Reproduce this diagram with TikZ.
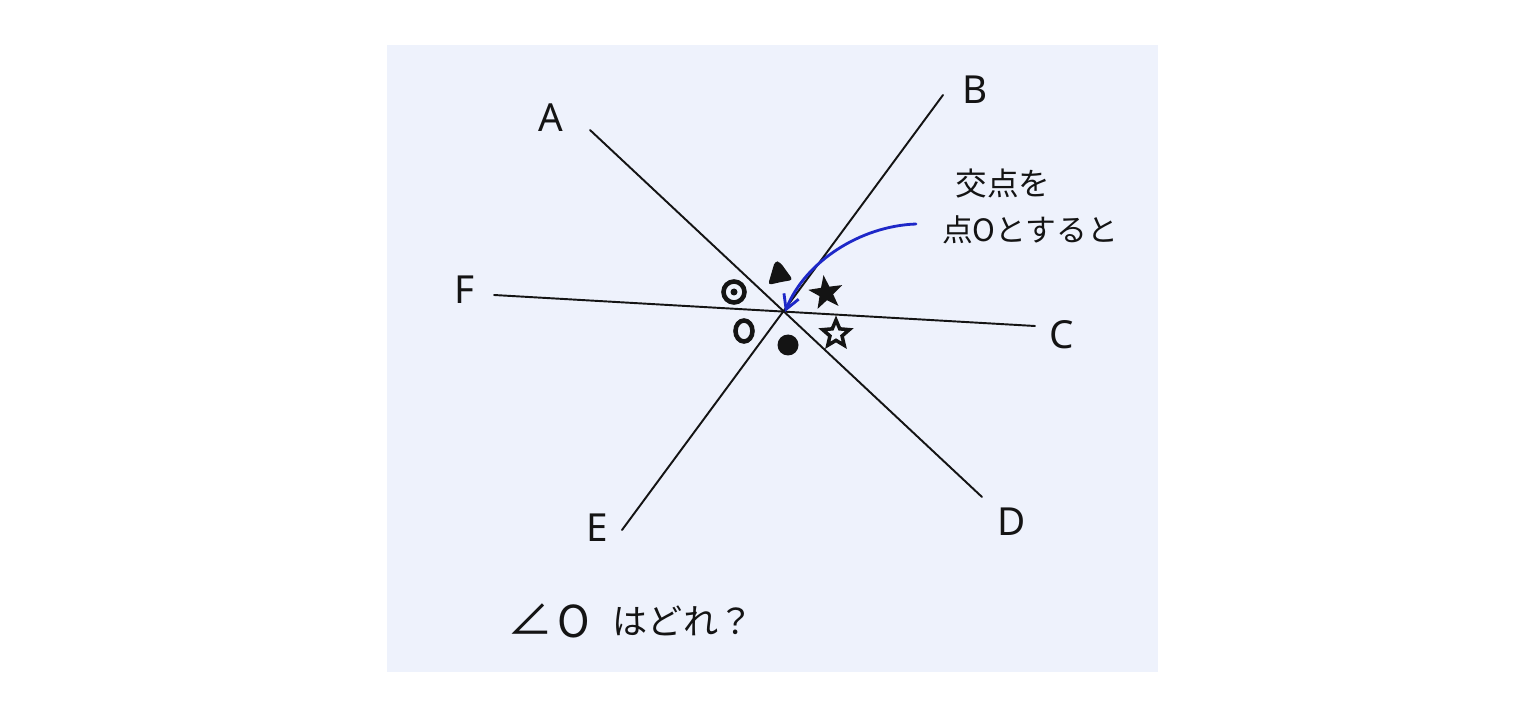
\documentclass[tikz,border=0pt]{standalone}
\usepackage{fontspec}
\newfontfamily\jp{Noto Sans CJK JP}
\setmainfont{Noto Sans}
\usetikzlibrary{arrows.meta,shapes.geometric}
\definecolor{panel}{RGB}{238,242,252}
\definecolor{pen}{RGB}{20,20,20}
\definecolor{bluepen}{RGB}{30,40,200}
\tikzset{
  px/.style={x=0.02cm,y=-0.02cm},
  ray/.style={draw=pen,line width=1.1pt,line cap=round},
  lbl/.style={text=pen,font=\fontsize{22}{24}\selectfont},
  jptext/.style={text=pen,font=\jp\fontsize{18}{20}\selectfont,inner sep=0pt},
  qtext/.style={text=pen,font=\jp\fontsize{20}{22}\selectfont,inner sep=0pt},
  sym/.style={draw=pen,line width=2.6pt},
}
\begin{document}
\begin{tikzpicture}[px]
\useasboundingbox (0,0) rectangle (1536,716);
\fill[panel] (387,45) rectangle (1158,672);
% end points
\coordinate (Aend) at (590,130);
\coordinate (Dend) at (982,497);
\coordinate (Bend) at (943,95);
\coordinate (Eend) at (622,530);
\coordinate (Fend) at (494,295);
\coordinate (Cend) at (1035,326);
\coordinate (O) at (785,312);
\draw[ray] (Aend) -- (Dend);
\draw[ray] (Bend) -- (Eend);
\draw[ray] (Fend) -- (Cend);
% labels
\node[lbl] (A) at (551,118) {A};
\node[lbl] (B) at (975,90) {B};
\node[lbl] (C) at (1062,335) {C};
\node[lbl] (D) at (1012,522) {D};
\node[lbl] (E) at (597,528) {E};
\node[lbl] (F) at (465,290) {F};
% symbols
\draw[sym] (734,292) circle (10.5);
\fill[pen] (734,292) circle (3.5);
\draw[sym] (744,331) ellipse (8.5 and 10.5);
\fill[pen] (788,345) circle (10.5);
\fill[pen,rounded corners=2pt] (775,261) -- (780,262) -- (793,280) -- (781,282) -- (768,285) -- cycle;
\node[star,star points=5,star point ratio=2.5,fill=pen,minimum size=0.72cm,inner sep=0pt,rotate=8] (s1) at (826,293) {};
\node[star,star points=5,star point ratio=2.2,draw=pen,line width=2pt,minimum size=0.56cm,inner sep=0pt] (s2) at (836,334) {};
% note
\node[jptext] (t1) at (1003,184) {交点を};
\node[jptext,font=\jp\fontsize{17.5}{20}\selectfont] (t2) at (1030,230) {点Oとすると};
\coordinate (arrstart) at (916,224);
\draw[bluepen,line width=1.6pt,line cap=round,-{Straight Barb[length=8pt,width=9pt]}] (arrstart) .. controls (860,226) and (805,262) .. (O);
% question
\node[qtext,font=\jp\fontsize{26}{28}\selectfont] (qa) at (530,620) {∠};
\node[qtext,font=\jp\fontsize{25}{26}\selectfont] (qo) at (574,621) {O};
\node[qtext] (qr) at (683,621) {はどれ？};
\end{tikzpicture}
\end{document}
